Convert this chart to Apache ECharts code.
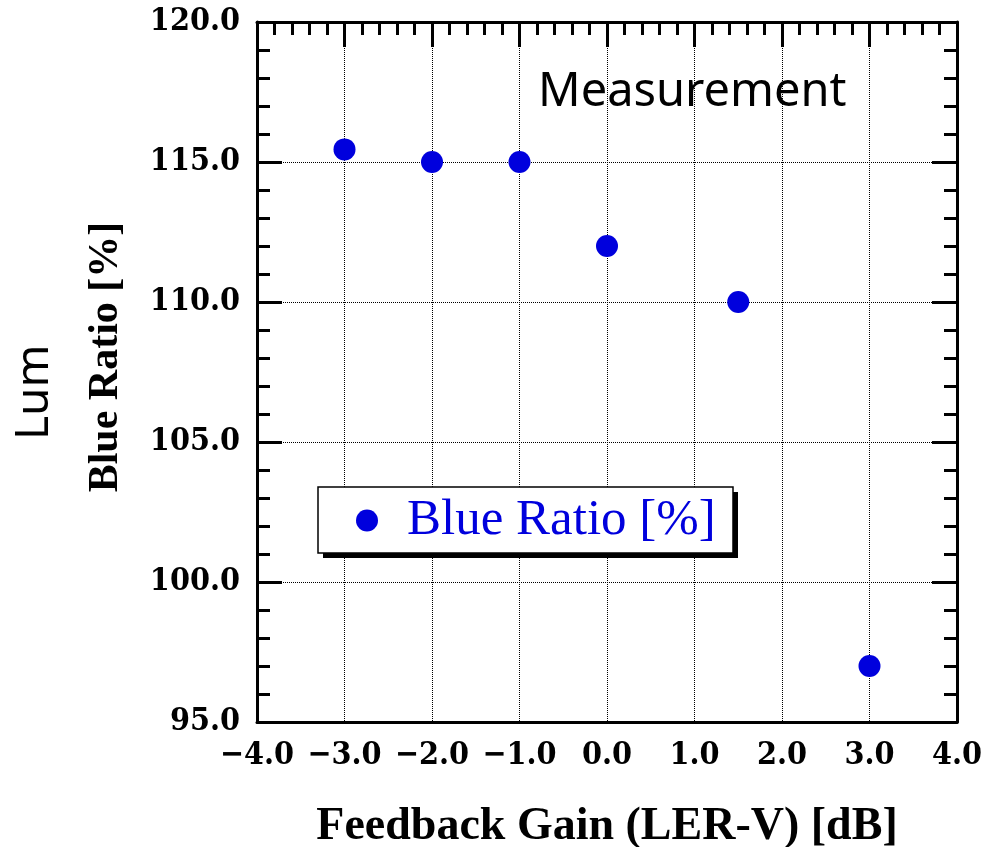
<!DOCTYPE html>
<html>
<head>
<meta charset="utf-8">
<script src="https://cdn.jsdelivr.net/npm/echarts@6/dist/echarts.min.js"></script>
<style>
html,body{margin:0;padding:0;background:#fff;}
#chart{width:988px;height:847px;}
</style>
</head>
<body>
<div id="chart"></div>
<script>
const gains = [-3, -2, -1, 0, 1.5, 3];
const blueRatio = [115.45, 115.0, 115.0, 112.0, 110.0, 97.0];
const seriesName = 'Blue Ratio [%]';
const xTitle = 'Feedback Gain (LER-V) [dB]';
const yTitle = 'Blue Ratio [%]';
const sideLabel = 'Lum';
const noteLabel = 'Measurement';

const fmt = v => v.toFixed(1).replace('-', '\u2212');
const tickFont = {fontFamily: 'DejaVu Serif Condensed', fontWeight: 'bold', fontSize: 32, color: '#000'};
const axisLine = {show: true, onZero: false, lineStyle: {color: '#000', width: 3}};
const grid = {type: [1, 1], color: '#000', width: 1};
const blue = '#0000dd';

const chart = echarts.init(document.getElementById('chart'), null, {renderer: 'canvas'});
chart.setOption({
  animation: false,
  backgroundColor: '#fff',
  grid: {left: 257, top: 22, width: 700, height: 700, containLabel: false, outerBoundsMode: 'none'},
  xAxis: [{
    type: 'value', min: -4, max: 4, interval: 1, position: 'bottom',
    axisLine: axisLine,
    axisTick: {show: false},
    minorTick: {show: false},
    axisLabel: Object.assign({formatter: fmt, margin: 18}, tickFont),
    splitLine: {show: true, lineStyle: grid},
    name: xTitle, nameLocation: 'middle', nameGap: 82,
    nameTextStyle: {fontFamily: 'Liberation Serif', fontWeight: 'bold', fontSize: 46, color: '#000'}
  }, {
    type: 'value', min: -4, max: 4, interval: 1, position: 'top',
    axisLine: axisLine,
    axisTick: {show: true, inside: true, length: 25, lineStyle: {color: '#000', width: 3}},
    minorTick: {show: true, splitNumber: 5, length: 13, lineStyle: {color: '#000', width: 3}},
    axisLabel: {show: false},
    splitLine: {show: false}
  }],
  yAxis: [{
    type: 'value', min: 95, max: 120, interval: 5, position: 'left',
    axisLine: axisLine,
    axisTick: {show: true, inside: true, length: 25, lineStyle: {color: '#000', width: 3}},
    minorTick: {show: true, splitNumber: 5, length: 13, lineStyle: {color: '#000', width: 3}},
    axisLabel: Object.assign({formatter: fmt, margin: 17}, tickFont),
    splitLine: {show: true, lineStyle: grid},
    name: yTitle, nameLocation: 'middle', nameGap: 130, nameRotate: 90,
    nameTextStyle: {fontFamily: 'Liberation Serif', fontWeight: 'bold', fontSize: 42, color: '#000', padding: [0, 0, 0, 30]}
  }, {
    type: 'value', min: 95, max: 120, interval: 5, position: 'right',
    axisLine: axisLine,
    axisTick: {show: true, inside: true, length: 25, lineStyle: {color: '#000', width: 3}},
    minorTick: {show: true, splitNumber: 5, length: 13, lineStyle: {color: '#000', width: 3}},
    axisLabel: {show: false},
    splitLine: {show: false}
  }],
  legend: {
    left: 318, top: 487,
    orient: 'vertical',
    padding: [8, 15, 8, 38],
    itemWidth: 22, itemHeight: 22,
    icon: 'circle',
    itemStyle: {color: blue, opacity: 1},
    textStyle: {fontFamily: 'Liberation Serif', fontSize: 51, color: blue, lineHeight: 50, padding: [0, 0, 0, 24]},
    data: [seriesName]
  },
  graphic: [{
    type: 'rect', z: 3, shape: {x: 323, y: 492, width: 415, height: 66},
    style: {fill: '#000'}
  }, {
    type: 'rect', z: 3, shape: {x: 318, y: 487, width: 415, height: 66},
    style: {fill: '#fff', stroke: '#000', lineWidth: 1.5}
  }, {
    type: 'text', left: 538, top: 69,
    style: {text: noteLabel, fontFamily: 'Noto Sans', fontSize: 47, fill: '#000'}
  }, {
    type: 'text', x: 12, y: 440, rotation: Math.PI / 2,
    style: {text: sideLabel, fontFamily: 'Noto Sans', fontSize: 46, fill: '#000'}
  }],
  series: [{
    name: seriesName,
    type: 'scatter',
    xAxisIndex: 0, yAxisIndex: 0,
    symbol: 'circle', symbolSize: 22,
    itemStyle: {color: blue, opacity: 1},
    data: gains.map((g, i) => [g, blueRatio[i]])
  }]
});
</script>
</body>
</html>
